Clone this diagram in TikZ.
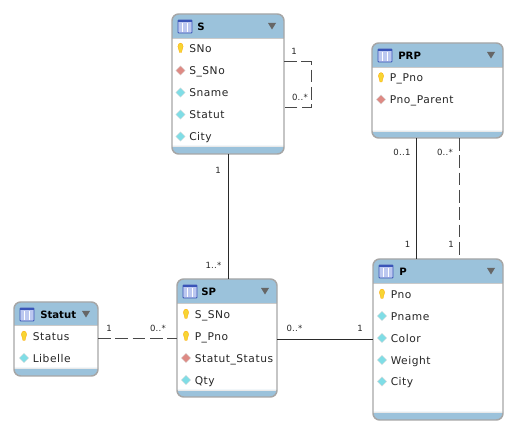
\documentclass[tikz,border=0pt]{standalone}
\usepackage{fontspec}
\setmainfont[LetterSpace=5]{DejaVu Sans}
\newfontfamily\titlefont{DejaVu Sans}
\newfontfamily\cardfont[LetterSpace=3]{DejaVu Sans}
\usetikzlibrary{shapes.geometric}
\definecolor{hdr}{HTML}{9BC2DB}
\definecolor{bord}{HTML}{A6A6A6}
\definecolor{keyy}{HTML}{F7D533}
\definecolor{fkc}{HTML}{DE8A84}
\definecolor{attc}{HTML}{7FDDE6}
\definecolor{conn}{HTML}{2A2A2A}
\definecolor{dashc}{HTML}{484848}
\definecolor{iconfill}{HTML}{BCC8F0}
\definecolor{iconedge}{HTML}{3A55B8}
\tikzset{
  rowtext/.style={font=\fontsize{8pt}{10pt}\selectfont,anchor=base west,inner sep=0pt,text=black!85},
  titletext/.style={font=\titlefont\fontsize{7.6pt}{10pt}\bfseries\selectfont,anchor=base west,inner sep=0pt},
  card/.style={font=\cardfont\fontsize{6.4pt}{8pt}\selectfont,inner sep=0pt,text=black!85},
  solidlink/.style={draw=conn,line width=0.7pt},
  dashlink/.style={draw=dashc,line width=0.75pt,dash pattern=on 9.5pt off 3.5pt},
  diam/.style={diamond,draw=white!70!gray,line width=0.3pt,inner sep=0pt,minimum width=7pt,minimum height=7pt},
}
% name, x0, y0, x1, y1, header bottom, footer top, title, title x
\newcommand{\etable}[9]{
  \pgfmathsetmacro{\boxcx}{(#2+#4)/2}
  \pgfmathsetmacro{\boxcy}{(#3+#5)/2}
  \pgfmathsetmacro{\boxw}{(#4-#2)*0.75}
  \pgfmathsetmacro{\boxh}{(#5-#3)*0.75}
  \node[fill=white,rounded corners=5pt,outer sep=0pt,inner sep=0pt,
        minimum width=\boxw pt,minimum height=\boxh pt] (#1) at (\boxcx,\boxcy) {};
  \fill[hdr] (#2,#6) [rounded corners=5pt] -- (#2,#3) -- (#4,#3) [sharp corners] -- (#4,#6) -- cycle;
  \fill[hdr] (#2,#7) [rounded corners=5pt] -- (#2,#5) -- (#4,#5) [sharp corners] -- (#4,#7) -- cycle;
  \draw[bord!60,line width=0.7pt] (#2,#6) -- (#4,#6);
  \draw[bord!25,line width=0.7pt] (#2,#7) -- (#4,#7);
  \draw[bord,line width=1.1pt,rounded corners=5pt] (#1.north west) rectangle (#1.south east);
  % table icon
  \fill[iconfill,draw=iconedge,line width=0.6pt,rounded corners=0.6pt] (#2+6,#3+6) rectangle (#2+20,#3+19);
  \fill[iconedge] (#2+6,#3+6) rectangle (#2+20,#3+8.5);
  \foreach \dx in {10.7,15.3}{\draw[white,line width=0.5pt] (#2+\dx,#3+9) -- (#2+\dx,#3+18.5);}
  \node[titletext] (#1title) at (#2+#9,#3+16.5) {#8};
  % menu triangle
  \fill[black!60] (#4-16,#3+9) -- (#4-8,#3+9) -- (#4-12,#3+15.5) -- cycle;
}
\newcommand{\keyrow}[4]{% name, x, y, text
  \fill[keyy,draw=orange!70!yellow,line width=0.25pt] (#2-2.6,#3-1.5) .. controls (#2-2.6,#3-6) and (#2+2.6,#3-6) .. (#2+2.6,#3-1.5) .. controls (#2+2.6,#3+0.5) and (#2+1.2,#3+1) .. (#2+1,#3+4.5) -- (#2-1,#3+4.5) .. controls (#2-1.2,#3+1) and (#2-2.6,#3+0.5) .. (#2-2.6,#3-1.5) -- cycle;
  \node[rowtext] (#1) at (#2+8.5,#3+4.5) {#4};
}
\newcommand{\fkrow}[4]{%
  \node[diam,fill=fkc] (#1d) at (#2,#3) {};
  \node[rowtext] (#1) at (#2+8.5,#3+4.5) {#4};
}
\newcommand{\attrow}[4]{%
  \node[diam,fill=attc] (#1d) at (#2,#3) {};
  \node[rowtext] (#1) at (#2+8.5,#3+4.5) {#4};
}
\begin{document}
\begin{tikzpicture}[x=0.75pt,y=-0.75pt]
\useasboundingbox (0,0) rectangle (518,445);
\etable{S}{172}{14}{284}{154}{38}{146}{S}{25}
\keyrow{sa}{180.5}{48}{SNo}
\fkrow{sb}{180.5}{70.5}{S\_SNo}
\attrow{sc}{180.5}{92.5}{Sname}
\attrow{sd}{180.5}{114.5}{Statut}
\attrow{se}{180.5}{136.5}{City}
\etable{PRP}{372}{43}{503}{138}{67}{131}{PRP}{26}
\keyrow{pa}{381}{77.5}{P\_Pno}
\fkrow{pb}{381}{99.5}{Pno\_Parent}
\etable{P}{373}{259}{503}{420}{283}{412}{P}{26}
\keyrow{qa}{382}{294}{Pno}
\attrow{qb}{382}{316}{Pname}
\attrow{qc}{382}{338}{Color}
\attrow{qd}{382}{360}{Weight}
\attrow{qe}{382}{381.5}{City}
\etable{SP}{177}{279}{277}{397}{303}{390}{SP}{24}
\keyrow{ta}{186}{314}{S\_SNo}
\keyrow{tb}{186}{336}{P\_Pno}
\fkrow{tc}{186}{358}{Statut\_Status}
\attrow{td}{186}{380}{Qty}
\etable{St}{14}{302}{98}{376}{325}{368}{Statut}{26}
\keyrow{ua}{24}{336}{Status}
\attrow{ub}{24}{358}{Libelle}
% connectors
\coordinate (loopa) at (S.east |- 0,62);
\coordinate (loopb) at (311,62);
\coordinate (loopc) at (311,108);
\coordinate (loopd) at (S.east |- 0,108);
\draw[dashlink] (loopa) -- (loopb) -- (loopc) -- (loopd);
\coordinate (ps) at (416,138);
\coordinate (pd) at (459,138);
\draw[solidlink] (S.south) -- (S.south |- SP.north);
\draw[solidlink] (ps) -- (ps |- P.north);
\draw[dashlink] (pd) -- (pd |- P.north);
\coordinate (h) at (0,339);
\draw[dashlink] (St.east |- h) -- (SP.west |- h);
\draw[solidlink] (SP.east |- h) -- (P.west |- h);
% cardinalities
\node[card] (c1) at (294,51) {1};
\node[card] (c2) at (300,97.5) {0..*};
\node[card] (c3) at (218,170.5) {1};
\node[card] (c4) at (213.5,265) {1..*};
\node[card] (c5) at (402,152.5) {0..1};
\node[card] (c6) at (445,152.5) {0..*};
\node[card] (c7) at (407.5,244.5) {1};
\node[card] (c8) at (451,244.5) {1};
\node[card] (c9) at (109,328.5) {1};
\node[card] (c10) at (158,328.5) {0..*};
\node[card] (c11) at (294.5,328.5) {0..*};
\node[card] (c12) at (360,328.5) {1};
\end{tikzpicture}
\end{document}
